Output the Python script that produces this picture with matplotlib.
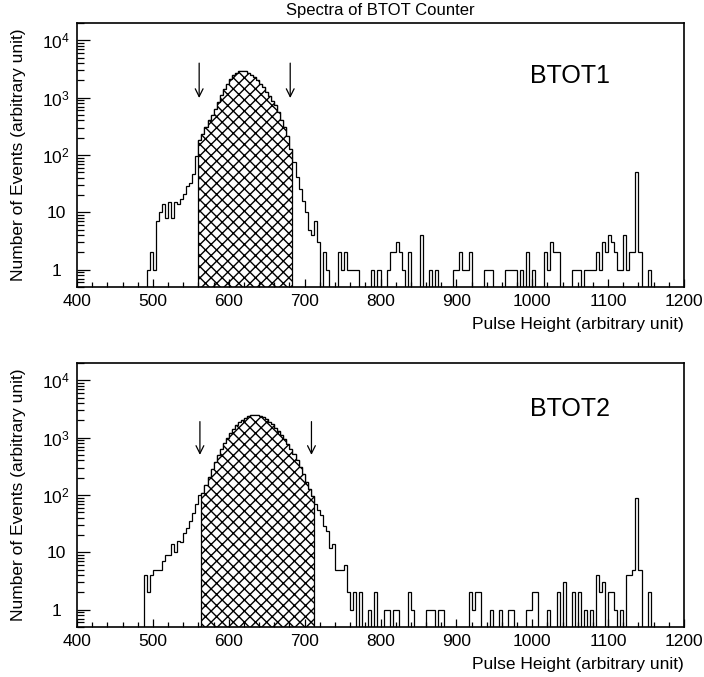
import numpy as np
import matplotlib
matplotlib.use('Agg')
import matplotlib.pyplot as plt
from matplotlib.ticker import MultipleLocator, LogLocator, NullFormatter

plt.rcParams['font.family'] = ['Liberation Sans', 'DejaVu Sans']
plt.rcParams['hatch.linewidth'] = 1.0

# histogram binning: 200 bins of width 4 between 400 and 1200
x_min, x_max, bin_w = 400, 1200, 4
y_min, y_max = 0.5, 2e4

# BTOT1 : lower bin edge -> counts (bins not listed are empty)
btot1_bins = [492, 496, 500, 504, 508, 512, 516, 520, 524, 528, 532, 536, 540, 544, 548, 552, 556,
              560, 564, 568, 572, 576, 580, 584, 588, 592, 596, 600, 604, 608, 612, 616, 620,
              624, 628, 632, 636, 640, 644, 648, 652, 656, 660, 664, 668, 672, 676, 680,
              684, 688, 692, 696, 700, 704, 708, 712, 716, 724, 728,
              744, 748, 752, 756, 760, 764, 768, 788, 796, 808, 812, 816, 820, 824, 828, 836,
              852, 864, 872, 896, 900, 904, 908, 912, 916, 936, 940, 944, 964, 968, 972, 976,
              984, 992, 1000, 1016, 1020, 1024, 1028, 1032, 1052, 1056, 1060, 1068, 1072, 1076,
              1080, 1084, 1088, 1092, 1096, 1100, 1104, 1108, 1112, 1116, 1120, 1124, 1128,
              1132, 1136, 1140, 1152]
btot1_counts = [1, 2, 1, 7, 10, 14, 8, 15, 8, 15, 14, 17, 21, 29, 33, 47, 95,
                179, 234, 303, 400, 489, 640, 834, 1090, 1430, 1745, 2140, 2440, 2720, 2870, 2900, 2870,
                2720, 2520, 2280, 2000, 1745, 1530, 1250, 1050, 890, 730, 560, 410, 303, 218, 125,
                75, 41, 26, 16, 10, 5, 4, 7, 3, 2, 1,
                2, 1, 2, 1, 1, 1, 1, 1, 1, 1, 2, 2, 3, 2, 1, 2,
                4, 1, 1, 1, 1, 2, 1, 1, 2, 1, 1, 1, 1, 1, 1, 1,
                1, 2, 1, 2, 1, 3, 2, 2, 1, 1, 1, 1, 1, 1,
                1, 2, 1, 3, 2, 4, 3, 2, 1, 1, 4, 1, 2,
                2, 50, 2, 1]
btot1_cut = [560, 684]
btot1_arrows = [561, 681]

# BTOT2
btot2_bins = [488, 492, 496, 500, 504, 508, 512, 516, 520, 524, 528, 532, 536, 540, 544, 548, 552, 556, 560,
              564, 568, 572, 576, 580, 584, 588, 592, 596, 600, 604, 608, 612, 616, 620, 624, 628,
              632, 636, 640, 644, 648, 652, 656, 660, 664, 668, 672, 676, 680, 684, 688, 692, 696,
              700, 704, 708,
              712, 716, 720, 724, 728, 732, 736, 740, 744, 748, 752, 756, 760,
              764, 772, 784, 792, 804, 808, 816, 820, 836, 840, 860, 864, 868, 876, 880,
              916, 920, 924, 928, 944, 956, 968, 972, 992, 996, 1000, 1004, 1020, 1032, 1040,
              1052, 1060, 1068, 1076, 1084, 1088, 1092, 1100, 1104, 1108, 1116, 1124, 1128,
              1132, 1136, 1140, 1152]
btot2_counts = [4, 2, 4, 5, 5, 5, 7, 9, 9, 14, 10, 16, 15, 22, 27, 35, 48, 70, 100,
                110, 150, 210, 280, 370, 490, 640, 800, 990, 1200, 1400, 1650, 1850, 2050, 2200, 2350, 2450,
                2480, 2450, 2350, 2250, 2100, 1900, 1700, 1500, 1300, 1100, 930, 780, 640, 510, 400, 310, 230,
                170, 125, 96,
                70, 55, 45, 29, 24, 12, 14, 5, 5, 5, 6, 2, 1,
                2, 2, 1, 2, 1, 1, 1, 1, 2, 1, 1, 1, 1, 1, 1,
                2, 1, 2, 2, 1, 1, 1, 1, 1, 1, 2, 2, 1, 2, 3,
                2, 2, 1, 1, 4, 2, 3, 2, 2, 1, 1, 4, 4,
                5, 90, 5, 2]
btot2_cut = [564, 712]
btot2_arrows = [562, 709]

y_ticks = [1, 10, 100, 1000, 10000]
y_tick_labels = ['1', '10', r'$\mathregular{10^2}$', r'$\mathregular{10^3}$', r'$\mathregular{10^4}$']

edges = np.arange(x_min, x_max + bin_w, bin_w)


def to_counts(bins, counts):
    h = np.zeros(len(edges) - 1)
    h[(np.array(bins) - x_min) // bin_w] = counts
    return h


fig = plt.figure(figsize=(7.04, 6.77), dpi=100)
ax1 = fig.add_axes([77 / 704, 1 - 287 / 677, 607 / 704, 264 / 677])
ax2 = fig.add_axes([77 / 704, 1 - 627 / 677, 607 / 704, 264 / 677])

panels = [
    (ax1, btot1_bins, btot1_counts, btot1_cut, btot1_arrows, 'BTOT1', 0.80, (0.848, 0.716)),
    (ax2, btot2_bins, btot2_counts, btot2_cut, btot2_arrows, 'BTOT2', 0.826, (0.778, 0.652)),
]

for ax, bins, counts, cut, arrows, name, name_y, arrow_y in panels:
    h = to_counts(bins, counts)
    ax.set_yscale('log')

    # full spectrum outline
    ax.stairs(h, edges, color='black', lw=0.9)

    # hatched selection window
    sel = (edges[:-1] >= cut[0]) & (edges[1:] <= cut[1])
    sel_edges = edges[np.r_[sel, False] | np.r_[False, sel]]
    ax.stairs(h[sel], sel_edges, fill=True, baseline=y_min, facecolor='white',
              edgecolor='black', hatch='xxx', lw=0.9)

    # cut arrows
    for xa in arrows:
        ax.annotate('', xy=(xa, arrow_y[1]), xycoords=('data', 'axes fraction'),
                    xytext=(xa, arrow_y[0]), textcoords=('data', 'axes fraction'),
                    arrowprops=dict(arrowstyle='->', color='black', lw=0.9,
                                    mutation_scale=14, shrinkA=0, shrinkB=0))

    ax.text(0.812, name_y, name, transform=ax.transAxes, ha='center', va='center', fontsize=18)

    ax.set_xlim(x_min, x_max)
    ax.set_ylim(y_min, y_max)

    ax.xaxis.set_major_locator(MultipleLocator(100))
    ax.xaxis.set_minor_locator(MultipleLocator(20))
    ax.set_yticks(y_ticks, labels=y_tick_labels)
    ax.yaxis.set_minor_locator(LogLocator(base=10, subs=np.arange(2, 10) * 1.0, numticks=20))
    ax.yaxis.set_minor_formatter(NullFormatter())
    for lab in ax.get_yticklabels():
        lab.set_horizontalalignment('center')

    ax.tick_params(which='both', direction='in', top=False, right=False, width=0.9)
    ax.tick_params(axis='x', which='major', length=6, pad=5, labelsize=12.5)
    ax.tick_params(axis='x', which='minor', length=3.5)
    ax.tick_params(axis='y', which='major', length=9, pad=15, labelsize=12.5)
    ax.tick_params(axis='y', which='minor', length=5)

    for sp in ax.spines.values():
        sp.set_linewidth(1.2)

    ax.set_xlabel('Pulse Height (arbitrary unit)', fontsize=12.5, ha='right')
    ax.xaxis.set_label_coords(1.0, -0.115)
    ax.set_ylabel('Number of Events (arbitrary unit)', fontsize=12.5)
    ax.yaxis.set_label_coords(-0.084, 0.5)

fig.text(380 / 704, 1 - 10 / 677, 'Spectra of BTOT Counter', ha='center', va='center', fontsize=12)

fig.savefig('out.png', dpi=100)
